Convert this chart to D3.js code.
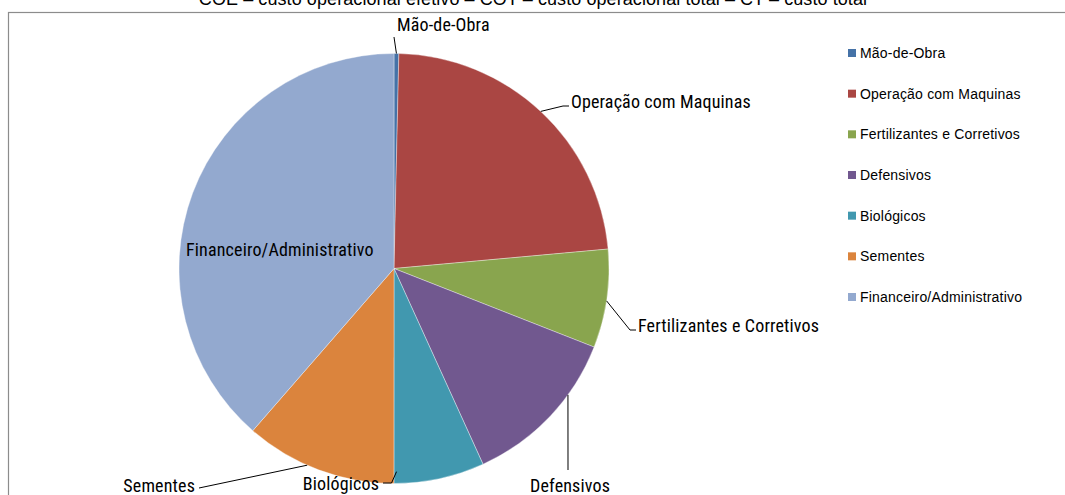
<!DOCTYPE html>
<html>
<head>
<meta charset="utf-8">
<script src="https://cdn.jsdelivr.net/npm/d3@7"></script>
<style>
  html, body { margin: 0; padding: 0; background: #fff; }
  svg { display: block; }
</style>
</head>
<body>
<svg id="chart" width="1065" height="495"></svg>
<script>
// ---- data ----
const categories = ["Mão-de-Obra", "Operação com Maquinas", "Fertilizantes e Corretivos", "Defensivos", "Biológicos", "Sementes", "Financeiro/Administrativo"];
const values = [0.36, 23.2, 7.4, 12.25, 6.8, 11.4, 38.6];
const colors = ["#4572A7", "#AA4643", "#89A54E", "#71588F", "#4198AF", "#DB843D", "#93A9CF"];
const titleText = "COE – custo operacional efetivo – COT – custo operacional total – CT – custo total";

// ---- layout ----
const W = 1065, H = 495;
const cx = 394, cy = 268.5, R = 215;
const labelFont = "'Liberation Sans Narrow', 'Arial Narrow', 'Roboto Condensed', 'DejaVu Sans Condensed', sans-serif";
const legendFont = "'Liberation Sans', Arial, sans-serif";

// label layout: start = [fraction within slice, radius factor], elbow points, text position
const labelLayout = [
  { frac: 0.5,  rf: 1.0,   pts: [[394, 37]],               tx: 397, ty: 31,  anchor: "start" },
  { frac: 0.5,  rf: 1.0,   pts: [[563, 106], [569, 106]],  tx: 571, ty: 108, anchor: "start" },
  { frac: 0.52, rf: 1.0,   pts: [[630, 330], [636, 330]],  tx: 638, ty: 332, anchor: "start" },
  { frac: 0.33, rf: 1.0,   pts: [[568, 470]],              tx: 570, ty: 492, anchor: "middle" },
  { frac: 0.97, rf: 0.945, pts: [[391.5, 483], [383, 483]], tx: 379, ty: 490, anchor: "end" },
  { frac: 0.58, rf: 1.0,   pts: [[199, 488]],              tx: 195, ty: 492, anchor: "end" },
  null
];

const svg = d3.select("#chart");

// frame
svg.append("rect")
  .attr("x", 8.5).attr("y", 12.5)
  .attr("width", W + 20).attr("height", H + 20)
  .attr("fill", "#fff")
  .attr("stroke", "#8c8c8c").attr("stroke-width", 1.2);

// clipped title (cut by the top edge, as in the reference)
svg.append("text")
  .attr("x", 533).attr("y", 5)
  .attr("text-anchor", "middle")
  .attr("font-family", "'Liberation Sans', Arial, sans-serif")
  .attr("font-size", 18)
  .attr("letter-spacing", 0.08)
  .attr("fill", "#000")
  .text(titleText);

const pie = d3.pie().sort(null).value(d => d.v).startAngle(0).endAngle(2 * Math.PI);
const data = categories.map((c, i) => ({ c, v: values[i], col: colors[i] }));
const arcs = pie(data);
const arc = d3.arc().innerRadius(0).outerRadius(R);

const g = svg.append("g").attr("transform", `translate(${cx},${cy})`);
g.selectAll("path.slice")
  .data(arcs)
  .join("path")
  .attr("class", "slice")
  .attr("d", arc)
  .attr("fill", d => d.data.col)
  .attr("stroke", "#ffffff")
  .attr("stroke-opacity", 0.6)
  .attr("stroke-width", 0.6);

// leader lines and labels
arcs.forEach((a, i) => {
  const L = labelLayout[i];
  if (!L) return;
  const ang = a.startAngle + (a.endAngle - a.startAngle) * L.frac;
  const sx = cx + Math.sin(ang) * R * L.rf;
  const sy = cy - Math.cos(ang) * R * L.rf;
  const pts = [[sx, sy]].concat(L.pts);
  svg.append("path")
    .attr("d", d3.line()(pts))
    .attr("fill", "none")
    .attr("stroke", "#000")
    .attr("stroke-width", 1);
  svg.append("text")
    .attr("x", L.tx).attr("y", L.ty)
    .attr("text-anchor", L.anchor)
    .attr("font-family", labelFont)
    .attr("font-size", 18)
    .attr("letter-spacing", 0.15)
    .attr("fill", "#000")
    .text(a.data.c);
});

// inside label for Financeiro/Administrativo
{
  const a = arcs[6];
  svg.append("text")
    .attr("x", 186).attr("y", 256)
    .attr("text-anchor", "start")
    .attr("font-family", labelFont)
    .attr("font-size", 18)
    .attr("letter-spacing", 0.15)
    .attr("fill", "#000")
    .text(a.data.c);
}

// legend
const legendY = d3.scalePoint().domain(categories).range([53, 297]);
const lg = svg.append("g");
categories.forEach((c, i) => {
  const y = legendY(c);
  lg.append("rect")
    .attr("x", 848).attr("y", y - 4)
    .attr("width", 8).attr("height", 8)
    .attr("fill", colors[i]);
  lg.append("text")
    .attr("x", 860).attr("y", y + 5)
    .attr("font-family", legendFont)
    .attr("font-size", 14)
    .attr("letter-spacing", 0.2)
    .attr("fill", "#000")
    .text(c);
});
</script>
</body>
</html>
